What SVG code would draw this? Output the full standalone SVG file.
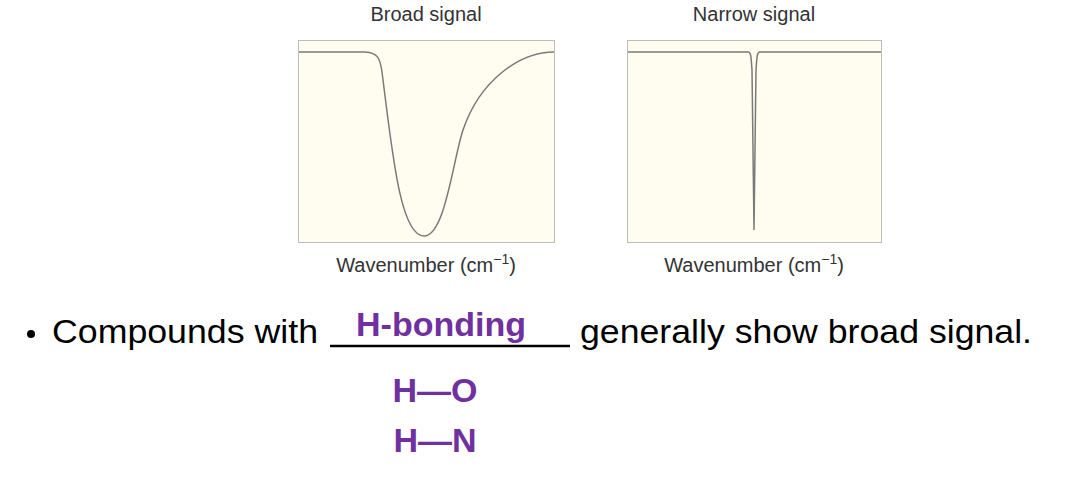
<svg xmlns="http://www.w3.org/2000/svg" width="1072" height="488" viewBox="0 0 1072 488">
<style>
.box{fill:#fefdef;stroke:#bdbdbd;stroke-width:1}
.curve{fill:none;stroke:#7a7a7a;stroke-width:1.5}
.lbl{font-family:"Liberation Sans",Arial,sans-serif;font-size:20px;fill:#333;text-anchor:middle}
.main{font-family:"Liberation Sans",Arial,sans-serif;font-size:34px;fill:#000}
.pur{font-family:"Liberation Sans",Arial,sans-serif;font-weight:bold;fill:#7030a0;font-size:34px;text-anchor:middle}
</style>
<rect width="1072" height="488" fill="#fff"/>
<g id="broad">
<text class="lbl" x="426" y="21">Broad signal</text>
<rect class="box" x="298.5" y="40.5" width="256" height="202"/>
<path class="curve" d="M299,52 L365,52 C378,53 380,58 382,72 C392,150 400,236 424,236 C445,236 453,160 463,130 C480,80 520,52 554,52"/>
<text class="lbl" x="426" y="272">Wavenumber (cm<tspan font-size="14" dy="-8">−1</tspan><tspan dy="8">)</tspan></text>
</g>
<g id="narrow">
<text class="lbl" x="754" y="21">Narrow signal</text>
<rect class="box" x="627.5" y="40.5" width="254" height="202"/>
<path class="curve" d="M628,52 L748,52 C751,52 751,56 752,70 L754,230 L756,70 C757,56 757,52 760,52 L881,52"/>
<text class="lbl" x="754" y="272">Wavenumber (cm<tspan font-size="14" dy="-8">−1</tspan><tspan dy="8">)</tspan></text>
</g>
<g id="text">
<circle cx="31" cy="334" r="4" fill="#000"/>
<text class="main" x="52" y="343" textLength="266" lengthAdjust="spacingAndGlyphs">Compounds with</text>
<line x1="330" y1="346" x2="570" y2="346" stroke="#000" stroke-width="2.5"/>
<text class="main" x="580" y="343" textLength="452" lengthAdjust="spacingAndGlyphs">generally show broad signal.</text>
<text class="pur" x="441" y="336">H-bonding</text>
<text class="pur" x="435" y="402">H—O</text>
<text class="pur" x="435" y="452">H—N</text>
</g>
</svg>
